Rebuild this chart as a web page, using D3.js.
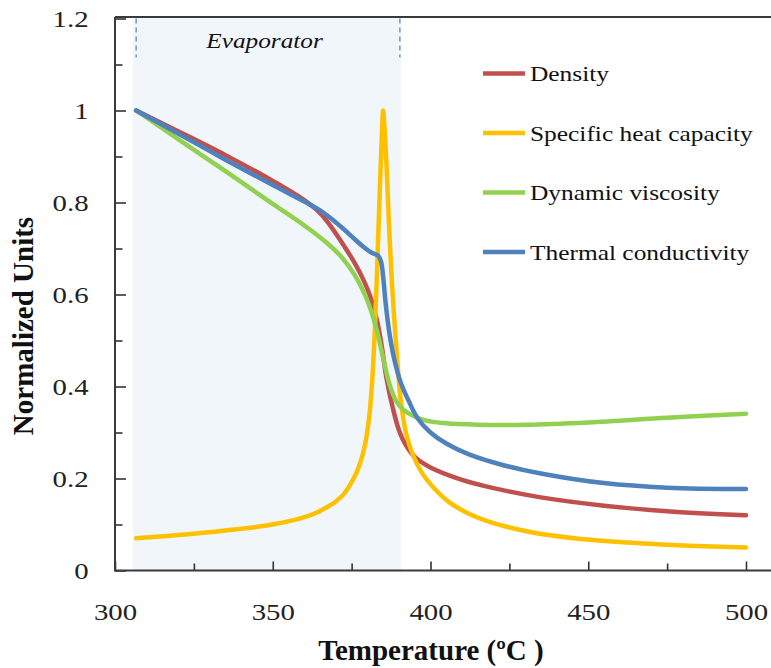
<!DOCTYPE html>
<html><head><meta charset="utf-8">
<script src="https://cdn.jsdelivr.net/npm/d3@7"></script>
<style>body{margin:0;background:#fff}</style>
</head><body><svg id="c" width="771" height="668"></svg>
<script>
// ---- data ----
const seriesNames = ["Density", "Specific heat capacity", "Dynamic viscosity", "Thermal conductivity"];
const seriesColors = ["#C0504D", "#FFC000", "#92D050", "#4F81BD"];

const densityT = [306.7, 320, 335, 350, 360, 365, 368, 372, 376, 379, 381, 383, 384.5, 386, 388, 390, 392, 395, 400, 410, 420, 435, 455, 475, 500];
const densityV = [1.0, 0.955, 0.903, 0.847, 0.805, 0.777, 0.752, 0.712, 0.668, 0.628, 0.594, 0.545, 0.49, 0.42, 0.355, 0.305, 0.275, 0.247, 0.224, 0.197, 0.179, 0.159, 0.141, 0.129, 0.120];

const heatT = [306.7, 320, 335, 348, 357, 363, 367, 370, 372.5, 374.5, 376.5, 378, 379.3, 380.5, 381.5, 382.4, 383.2, 384.0, 384.6, 385.0, 385.4, 386.0, 386.8, 387.7, 389.0, 390.5, 392.2, 394.5, 397.5, 401, 406, 412, 420, 432, 447, 465, 482, 500];
const heatV = [0.070, 0.077, 0.087, 0.098, 0.110, 0.123, 0.137, 0.150, 0.166, 0.186, 0.212, 0.24, 0.275, 0.33, 0.41, 0.53, 0.68, 0.84, 0.95, 1.0, 0.965, 0.89, 0.76, 0.635, 0.5, 0.375, 0.3, 0.25, 0.21, 0.18, 0.148, 0.124, 0.103, 0.083, 0.069, 0.06, 0.054, 0.050];

const viscT = [306.7, 320, 335, 350, 360, 367, 372, 376, 379, 381, 383, 385, 387, 389, 391, 394, 398, 405, 415, 430, 450, 475, 500];
const viscV = [1.0, 0.938, 0.868, 0.797, 0.750, 0.713, 0.68, 0.642, 0.603, 0.568, 0.522, 0.462, 0.405, 0.37, 0.352, 0.338, 0.327, 0.32, 0.317, 0.317, 0.322, 0.332, 0.341];

const condT = [306.7, 320, 335, 350, 360, 365, 368, 372, 376, 379, 381.5, 383.3, 384.3, 385, 385.8, 387, 388.5, 390.5, 393, 396, 400, 405, 412, 422, 435, 455, 475, 500];
const condV = [1.0, 0.950, 0.893, 0.838, 0.802, 0.783, 0.768, 0.745, 0.72, 0.702, 0.69, 0.685, 0.672, 0.638, 0.58, 0.515, 0.46, 0.41, 0.37, 0.33, 0.300, 0.276, 0.253, 0.231, 0.211, 0.19, 0.18, 0.177];

const xMajorTicks = [300, 350, 400, 450, 500];
const xMinorTicks = [325, 375, 425, 475];
const yMajorTicks = [0, 0.2, 0.4, 0.6, 0.8, 1.0, 1.2];
const yMinorTicks = [0.1, 0.3, 0.5, 0.7, 0.9, 1.1];
const evaporatorShade = [305.7, 390.6];
const evaporatorMarks = [306.7, 390.3];
const evaporatorLabel = "Evaporator";
const xTitle = "Temperature (ºC )";
const yTitle = "Normalized Units";

// ---- chart ----
const svg = d3.select("#c");
const L = 115, R = 746, T = 18.5, B = 570.5;
const x = d3.scaleLinear().domain([300, 500]).range([L, R]);
const y = d3.scaleLinear().domain([0, 1.2]).range([B, T]);
const serif = "'Liberation Serif','Times New Roman',serif";

// evaporator shading
svg.append("rect")
  .attr("x", x(evaporatorShade[0])).attr("y", T - 1)
  .attr("width", x(evaporatorShade[1]) - x(evaporatorShade[0]))
  .attr("height", B - T + 1)
  .attr("fill", "#F1F6FB");
svg.selectAll("line.evap").data(evaporatorMarks).enter().append("line")
  .attr("x1", d => x(d)).attr("x2", d => x(d))
  .attr("y1", T).attr("y2", y(1.115))
  .attr("stroke", "#4F81BD").attr("stroke-width", 1.2)
  .attr("stroke-dasharray", "5,4");
svg.append("text")
  .attr("transform", `translate(${(x(evaporatorMarks[0]) + x(evaporatorMarks[1])) / 2 - 3.5},${y(1.135)}) scale(1.15,1)`)
  .attr("text-anchor", "middle")
  .attr("font-family", serif).attr("font-style", "italic").attr("font-size", 22)
  .attr("fill", "#111").text(evaporatorLabel);

// axes
function styleAxis(g) {
  g.select(".domain").remove();
  g.selectAll(".tick line").attr("stroke", "#333").attr("stroke-width", 1.6);
}
const gxMinor = svg.append("g").attr("transform", `translate(0,${B})`)
  .call(d3.axisBottom(x).tickValues(xMinorTicks).tickSize(-7).tickFormat(""));
styleAxis(gxMinor);
const gxMajor = svg.append("g").attr("transform", `translate(0,${B})`)
  .call(d3.axisBottom(x).tickValues(xMajorTicks).tickSize(-9).tickPadding(50).tickFormat(d3.format("d")));
styleAxis(gxMajor);
gxMajor.selectAll(".tick text")
  .attr("font-family", serif).attr("font-size", 24).attr("fill", "#222")
  .attr("dy", 0).attr("transform", "scale(1.2,1)");

const gyMinor = svg.append("g").attr("transform", `translate(${L},0)`)
  .call(d3.axisLeft(y).tickValues(yMinorTicks).tickSize(-7.5).tickFormat(""));
styleAxis(gyMinor);
const gyMajor = svg.append("g").attr("transform", `translate(${L},0)`)
  .call(d3.axisLeft(y).tickValues(yMajorTicks).tickSize(-11).tickPadding(22).tickFormat(d => String(+d.toFixed(1))));
styleAxis(gyMajor);
gyMajor.selectAll(".tick text")
  .attr("font-family", serif).attr("font-size", 24).attr("fill", "#222")
  .attr("dy", "0.32em").attr("transform", "scale(1.2,1)");

// frame
const frame = svg.append("g").attr("stroke", "#3a3a3a").attr("stroke-width", 2).attr("fill", "none");
frame.append("line").attr("x1", L).attr("x2", L).attr("y1", T - 1.5).attr("y2", B + 1);
frame.append("line").attr("x1", L).attr("x2", 771).attr("y1", B).attr("y2", B);
frame.append("line").attr("x1", L).attr("x2", 771).attr("y1", T - 1.5).attr("y2", T - 1.5);

// series
const seriesData = [
  d3.zip(densityT, densityV),
  d3.zip(heatT, heatV),
  d3.zip(viscT, viscV),
  d3.zip(condT, condV)
];
const line = d3.line().x(d => x(d[0])).y(d => y(d[1])).curve(d3.curveCatmullRom.alpha(0.5));
svg.selectAll("path.series").data(seriesData).enter().append("path")
  .attr("class", "series")
  .attr("d", line)
  .attr("fill", "none")
  .attr("stroke", (d, i) => seriesColors[i])
  .attr("stroke-width", 4.5)
  .attr("stroke-linecap", "round")
  .attr("stroke-linejoin", "round");

// legend
const lg = svg.append("g");
seriesNames.forEach((name, i) => {
  const yy = 73.5 + i * 59.5;
  lg.append("line").attr("x1", 483).attr("x2", 525).attr("y1", yy).attr("y2", yy)
    .attr("stroke", seriesColors[i]).attr("stroke-width", 4.5);
  lg.append("text")
    .attr("transform", `translate(530,${yy + 7.5}) scale(1.155,1)`)
    .attr("font-family", serif).attr("font-size", 22).attr("fill", "#111")
    .text(name);
});

// axis titles
svg.append("text")
  .attr("x", 431).attr("y", 660)
  .attr("text-anchor", "middle")
  .attr("font-family", serif).attr("font-weight", "bold").attr("font-size", 29).attr("fill", "#111")
  .text(xTitle);
svg.append("text")
  .attr("transform", "translate(33,326) rotate(-90)")
  .attr("text-anchor", "middle")
  .attr("font-family", serif).attr("font-weight", "bold").attr("font-size", 29).attr("fill", "#111")
  .text(yTitle);
</script></body></html>
